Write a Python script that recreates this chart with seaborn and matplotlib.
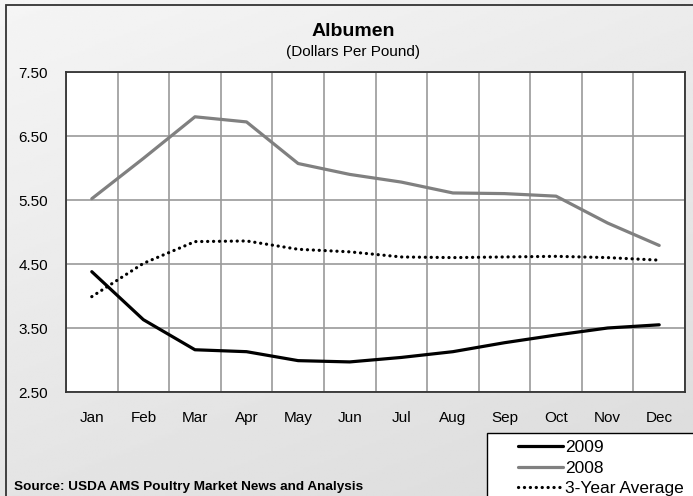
import numpy as np
import matplotlib
matplotlib.use("Agg")
import matplotlib.pyplot as plt
from matplotlib.patches import Rectangle
from matplotlib.lines import Line2D
import seaborn as sns

# ---- data ----
months = ["Jan", "Feb", "Mar", "Apr", "May", "Jun",
          "Jul", "Aug", "Sep", "Oct", "Nov", "Dec"]
y2009 = [4.38, 3.63, 3.16, 3.13, 2.99, 2.97, 3.04, 3.13, 3.27, 3.39, 3.50, 3.55]
y2008 = [5.52, 6.15, 6.80, 6.72, 6.07, 5.90, 5.78, 5.61, 5.60, 5.56, 5.14, 4.79]
avg3 = [3.99, 4.51, 4.85, 4.86, 4.73, 4.69, 4.61, 4.60, 4.61, 4.62, 4.60, 4.56]
yticks = [2.5, 3.5, 4.5, 5.5, 6.5, 7.5]

W, H = 693, 496
sns.set_theme(style="white")
plt.rcParams["font.family"] = ["Liberation Sans", "DejaVu Sans"]
plt.rcParams["text.color"] = "black"
plt.rcParams["xtick.color"] = "black"
plt.rcParams["ytick.color"] = "black"

fig = plt.figure(figsize=(W / 100, H / 100), dpi=100)

# gradient background
bg = fig.add_axes([0, 0, 1, 1], zorder=-10)
gx, gy = np.meshgrid(np.linspace(0, 1, 200), np.linspace(0, 1, 200))
grad = 0.96 - 0.10 * (0.35 * gx + 0.65 * gy)
bg.imshow(grad, cmap="gray", vmin=0, vmax=1, aspect="auto",
          extent=[0, 1, 0, 1], origin="upper")
bg.set_xlim(0, 1)
bg.set_ylim(0, 1)
bg.axis("off")
# outer frame (cropped at right / bottom)
fig.patches.append(Rectangle((6 / W, -0.05), 1.1, 1 - 5 / H + 0.05,
                             transform=fig.transFigure, fill=False,
                             edgecolor="#333333", lw=1.3))

ax = fig.add_axes([66 / W, 1 - 392 / H, (685 - 66) / W, (392 - 72) / H])
ax.set_facecolor("white")

x = np.arange(len(months))
sns.lineplot(x=x, y=y2008, ax=ax, color="#808080", lw=2.3)
sns.lineplot(x=x, y=y2009, ax=ax, color="black", lw=2.3)
sns.lineplot(x=x, y=avg3, ax=ax, color="black", lw=2.3)
ax.lines[2].set_dashes((0.05, 1.8))
ax.lines[2].set_dash_capstyle("round")

ax.set_xlim(-0.5, 11.5)
ax.set_ylim(2.5, 7.5)
ax.set_xticks(x)
ax.set_xticklabels(months, fontsize=11)
ax.set_xticks(np.arange(-0.5, 12, 1), minor=True)
ax.set_yticks(yticks)
ax.set_yticklabels([f"{v:.2f}" for v in yticks], fontsize=11)
ax.tick_params(axis="x", which="major", length=0, pad=14)
ax.tick_params(axis="y", length=0, pad=13)
ax.tick_params(which="minor", length=0)
ax.grid(False)
ax.grid(True, which="minor", axis="x", color="#9a9a9a", lw=1.2)
ax.grid(True, which="major", axis="y", color="#9a9a9a", lw=1.2)
ax.set_axisbelow(True)
for s in ax.spines.values():
    s.set_visible(True)
    s.set_color("#333333")
    s.set_linewidth(1.3)

fig.text(353 / W, 1 - 31 / H, "Albumen", ha="center", va="center",
         fontsize=14, fontweight="bold")
fig.text(353 / W, 1 - 52 / H, "(Dollars Per Pound)", ha="center",
         va="center", fontsize=11)
fig.text(14 / W, 1 - 487 / H, "Source: USDA AMS Poultry Market News and Analysis",
         ha="left", va="center", fontsize=9.7, fontweight="bold")

# legend box (cropped at right/bottom)
fig.patches.append(Rectangle((487 / W, -0.05), 0.5, 1 - 433 / H + 0.05,
                             transform=fig.transFigure, facecolor="white",
                             edgecolor="black", lw=1.0, zorder=5))
handles = [Line2D([], [], color="black", lw=2.3),
           Line2D([], [], color="#808080", lw=2.3),
           Line2D([], [], color="black", lw=2.3, dashes=(0.05, 1.8),
                  dash_capstyle="round")]
leg = fig.legend(handles, ["2009", "2008", "3-Year Average"],
                 loc="upper left", bbox_to_anchor=(506 / W, 1 - 428 / H),
                 frameon=False, fontsize=12.5, handlelength=2.6,
                 handletextpad=0.1, labelspacing=0.3, borderpad=0.2)
leg.set_zorder(6)

fig.savefig("out.png", dpi=100)
